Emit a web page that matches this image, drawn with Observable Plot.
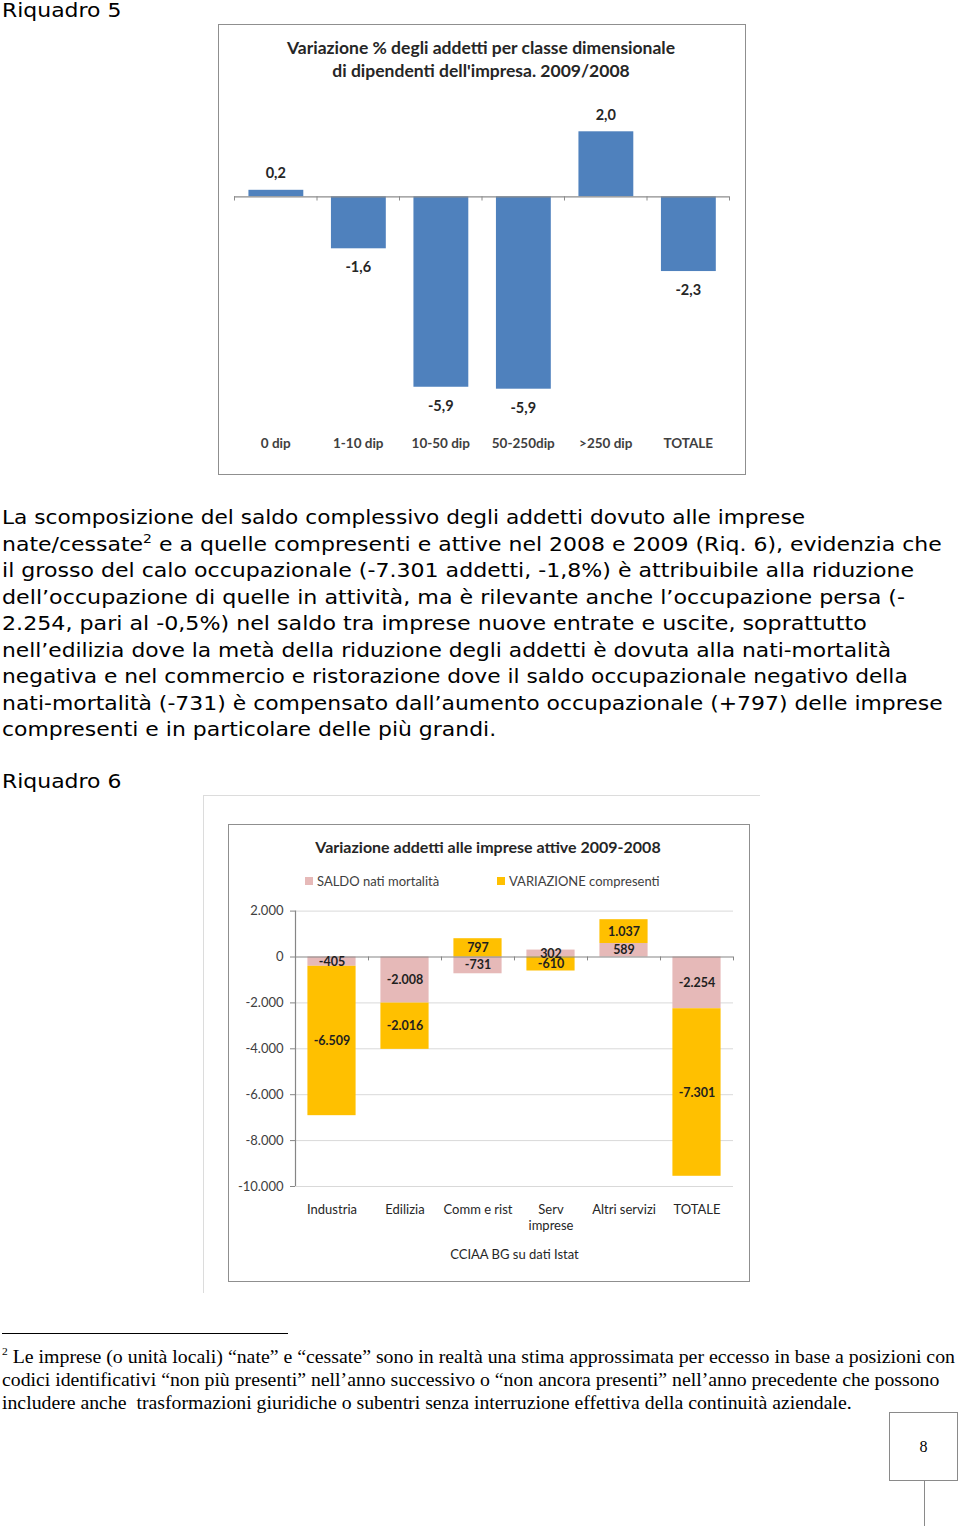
<!DOCTYPE html>
<html><head><meta charset="utf-8">
<script src="https://cdn.jsdelivr.net/npm/d3@7"></script>
<script src="https://cdn.jsdelivr.net/npm/@observablehq/plot@0.6"></script>
<style>
html,body{margin:0;padding:0;background:#fff;}
body{position:relative;width:960px;height:1526px;overflow:hidden;}
.abs{position:absolute;}
.body{font-family:"DejaVu Sans",Verdana,sans-serif;font-size:19px;line-height:26px;color:#000;white-space:nowrap;transform-origin:0 50%;}
.body sup{font-size:12px;line-height:0;vertical-align:8px;}
.fn{font-family:"Liberation Serif","Times New Roman",serif;font-size:19px;line-height:22.5px;color:#000;white-space:nowrap;transform-origin:0 50%;}
.fn sup{font-size:11px;line-height:0;vertical-align:8px;}
.ctr{transform:translate(-50%,-50%);white-space:nowrap;}
.chartbox{position:absolute;border:1px solid #8f8f8f;box-sizing:border-box;background:#fff;}
.ctitle{font-family:Lato,"Open Sans",sans-serif;font-weight:700;color:#262626;}
.leg{font-family:Lato,"Open Sans",sans-serif;font-size:13px;color:#404040;display:flex;align-items:center;}
.leg i{display:inline-block;width:8px;height:8px;margin-right:4px;}
svg{position:absolute;}
</style>
</head><body>
<script>
// ---------- DATA ----------
const classi = ["0 dip", "1-10 dip", "10-50 dip", "50-250dip", ">250 dip", "TOTALE"];
const variazionePct = [0.2, -1.6, -5.86, -5.92, 2.0, -2.3];
const titolo1 = ["Variazione % degli addetti per classe dimensionale", "di dipendenti dell'impresa. 2009/2008"];

const settori = ["Industria", "Edilizia", "Comm e rist", "Serv\nimprese", "Altri servizi", "TOTALE"];
const saldoNatiMortalita = [-405, -2008, -731, 302, 589, -2254];
const variazioneCompresenti = [-6509, -2016, 797, -610, 1037, -7301];
const serie = ["SALDO nati mortalità", "VARIAZIONE compresenti"];
const coloriSerie = ["#E6B9B8", "#FFC000"];
const ticksY2 = [2000, 0, -2000, -4000, -6000, -8000, -10000];
const titolo2 = "Variazione addetti alle imprese attive 2009-2008";
const fonte2 = "CCIAA BG su dati Istat";

const bodyLines = [
  "La scomposizione del saldo complessivo degli addetti dovuto alle imprese",
  "nate/cessate<sup>2</sup> e a quelle compresenti e attive nel 2008 e 2009 (Riq. 6), evidenzia che",
  "il grosso del calo occupazionale (-7.301 addetti, -1,8%) è attribuibile alla riduzione",
  "dell’occupazione di quelle in attività, ma è rilevante anche l’occupazione persa (-",
  "2.254, pari al -0,5%) nel saldo tra imprese nuove entrate e uscite, soprattutto",
  "nell’edilizia dove la metà della riduzione degli addetti è dovuta alla nati-mortalità",
  "negativa e nel commercio e ristorazione dove il saldo occupazionale negativo della",
  "nati-mortalità (-731) è compensato dall’aumento occupazionale (+797) delle imprese",
  "compresenti e in particolare delle più grandi."
];
const bodyRightEnds = [805, 941.7, 914, 905, 866.7, 891, 907.7, 942.7, null];
const footLines = [
  "<sup>2</sup> Le imprese (o unità locali) “nate” e “cessate” sono in realtà una stima approssimata per eccesso in base a posizioni con",
  "codici identificativi “non più presenti” nell’anno successivo o “non ancora presenti” nell’anno precedente che possono",
  "includere anche&nbsp; trasformazioni giuridiche o subentri senza interruzione effettiva della continuità aziendale."
];
const footRightEnds = [955, 939.3, 851.7];

// ---------- helpers ----------
const itLocale = d3.formatLocale({decimal: ",", thousands: ".", grouping: [3], currency: ["", " €"], minus: "-"});
const fmt1 = itLocale.format(".1f");
const fmt2 = itLocale.format(",d");

function el(tag, cls, style, html) {
  const e = document.createElement(tag);
  if (cls) e.className = cls;
  Object.assign(e.style, style || {});
  if (html != null) e.innerHTML = html;
  document.body.appendChild(e);
  return e;
}
function fit(e, left, right) {
  const w = e.getBoundingClientRect().width;
  const k = (right - left) / w;
  e.style.transform = `scaleX(${k})`;
  return k;
}

// ---------- page text ----------
const r5 = el("div", "abs body", {left: "2px", top: "-3.3px"}, "Riquadro 5");
const bodyEls = bodyLines.map((t, i) => el("div", "abs body", {left: "2px", top: (504.4 + i * 26.5) + "px"}, t));
const ks = [];
bodyEls.forEach((e, i) => { if (bodyRightEnds[i]) ks.push(fit(e, 2, bodyRightEnds[i])); });
const kMean = d3.mean(ks);
bodyEls.forEach((e, i) => { if (!bodyRightEnds[i]) e.style.transform = `scaleX(${kMean})`; });
r5.style.transform = `scaleX(${kMean})`;
const r6 = el("div", "abs body", {left: "2px", top: "767.7px"}, "Riquadro 6");
r6.style.transform = `scaleX(${kMean})`;

// footnote rule
el("div", "abs", {left: "2px", top: "1333px", width: "286px", height: "1px", background: "#000"});
footLines.forEach((t, i) => {
  const e = el("div", "abs fn", {left: "2px", top: (1346.3 + i * 22.6) + "px"}, t);
  fit(e, 2, footRightEnds[i]);
});
// page number box
el("div", "abs", {left: "889px", top: "1412px", width: "69px", height: "69px", border: "1px solid #8a8a8a", boxSizing: "border-box",
  display: "flex", alignItems: "center", justifyContent: "center", fontFamily: "'Liberation Serif',serif", fontSize: "16px"}, "8");
el("div", "abs", {left: "924px", top: "1481px", width: "1px", height: "45px", background: "#8a8a8a"});

// ---------- Chart 1 (Riquadro 5) ----------
el("div", "chartbox", {left: "218px", top: "24px", width: "528px", height: "451px"});
titolo1.forEach((t, i) => el("div", "abs ctitle ctr", {left: "481px", top: (47 + i * 23) + "px", fontSize: "17.5px"}, t));

const d1 = classi.map((c, i) => ({c, i, v: variazionePct[i]}));
const p1 = Plot.plot({
  width: 527, height: 450,
  marginLeft: 16, marginRight: 16, marginTop: 74.8, marginBottom: 50.2,
  x: {domain: [0, classi.length], axis: null},
  y: {domain: [-7, 3], axis: null},
  style: {fontFamily: "Lato, 'Open Sans', sans-serif", background: "transparent", overflow: "visible"},
  marks: [
    Plot.rect(d1, {x1: d => d.i + 0.175, x2: d => d.i + 0.84, y1: 0, y2: "v", fill: "#4F81BD"}),
    Plot.ruleY([0], {stroke: "#8c8c8c", strokeWidth: 1.2}),
    Plot.ruleX(d3.range(classi.length + 1), {y1: 0, y2: -0.13, stroke: "#8c8c8c"}),
    Plot.text(d1.filter(d => d.v >= 0), {x: d => d.i + 0.5, y: "v", text: d => fmt1(d.v), dy: -16.7,
      fontSize: 14.5, fontWeight: "bold", fill: "#262626"}),
    Plot.text(d1.filter(d => d.v < 0), {x: d => d.i + 0.5, y: "v", text: d => fmt1(d.v), dy: 19,
      fontSize: 14.5, fontWeight: "bold", fill: "#262626"}),
    Plot.text(d1, {x: d => d.i + 0.5, frameAnchor: "bottom", dy: 24, text: "c",
      fontSize: 13.5, fontWeight: "bold", fill: "#404040"})
  ]
});
Object.assign(p1.style, {left: "218px", top: "24px"});
document.body.appendChild(p1);

// ---------- Chart 2 (Riquadro 6) ----------
el("div", "abs", {left: "203px", top: "795px", width: "557px", height: "498px",
  borderTop: "1px solid #dcdcdc", borderLeft: "1px solid #dcdcdc", boxSizing: "border-box"});
el("div", "chartbox", {left: "228px", top: "824px", width: "522px", height: "458px"});
el("div", "abs ctitle ctr", {left: "488px", top: "846px", fontSize: "16px"}, titolo2);
serie.forEach((s, j) => {
  el("div", "abs leg", {left: (j === 0 ? 305 : 497) + "px", top: "873px", height: "16px"},
    `<i style="background:${coloriSerie[j]}"></i>${s}`);
});

const rows = [];
settori.forEach((s, i) => {
  rows.push({s, i, serie: serie[0], v: saldoNatiMortalita[i]});
  rows.push({s, i, serie: serie[1], v: variazioneCompresenti[i]});
});
const p2 = Plot.plot({
  width: 521, height: 456,
  marginLeft: 67, marginRight: 16, marginTop: 85.6, marginBottom: 95,
  x: {domain: [0, settori.length], axis: null},
  y: {domain: [-10000, 2000], axis: null},
  color: {domain: serie, range: coloriSerie},
  style: {fontFamily: "Lato, 'Open Sans', sans-serif", background: "transparent", overflow: "visible"},
  marks: [
    Plot.ruleY(ticksY2.filter(t => t !== 0), {stroke: "#d9d9d9"}),
    Plot.rect(rows, Plot.stackY({x: "i", x1: d => d.i + 0.17, x2: d => d.i + 0.83, y: "v", fill: "serie"})),
    Plot.ruleY([0], {stroke: "#868686", strokeWidth: 1.2}),
    Plot.ruleX(d3.range(settori.length + 1), {y1: 0, y2: -170, stroke: "#868686"}),
    Plot.ruleX([0], {stroke: "#868686", strokeWidth: 1.2}),
    Plot.axisY({ticks: ticksY2, tickFormat: fmt2, tickSize: 5, tickPadding: 7, stroke: "#868686",
      fontSize: 13, fill: "#404040", anchor: "left", label: null}),
    Plot.text(rows, Plot.stackY({x: d => d.i + 0.5, y: "v", z: "serie", text: d => fmt2(d.v),
      fontSize: 12.5, fontWeight: "bold", fill: "#1f1f1f"})),
    Plot.text(settori, {x: (d, i) => i + 0.5, frameAnchor: "bottom", dy: 15, lineAnchor: "top", lineHeight: 1.3,
      text: d => d, fontSize: 13, fill: "#262626"}),
    Plot.text([fonte2], {frameAnchor: "bottom", dy: 72, text: d => d, fontSize: 13, fill: "#262626"})
  ]
});
Object.assign(p2.style, {left: "228px", top: "825px"});
document.body.appendChild(p2);
</script>
</body></html>
